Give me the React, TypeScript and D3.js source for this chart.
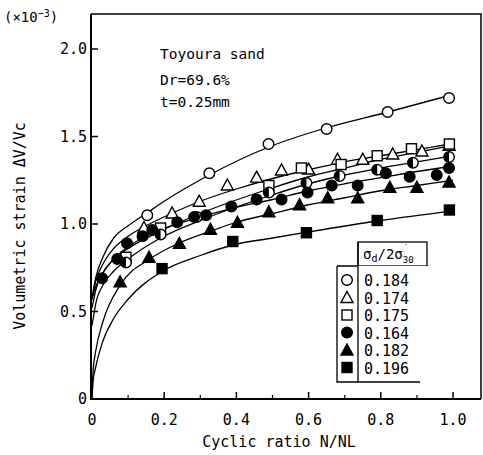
import React from "react";
import * as d3 from "d3";

type Pt = [number, number];

const legendLabels = ["0.184", "0.174", "0.175", "0.164", "0.182", "0.196"];
const xTicks = [0, 0.2, 0.4, 0.6, 0.8, 1.0];
const xTickLabels = ["0", "0.2", "0.4", "0.6", "0.8", "1.0"];
const xMinorTicks = [0.1, 0.3, 0.5, 0.7, 0.9];
const yTicks = [0.5, 1.0, 1.5, 2.0];
const yTickLabels = ["0.5", "1.0", "1.5", "2.0"];

// measured points (x = N/NL, y = volumetric strain x1e-3)
const openCircle: Pt[] = [[0.153, 1.05], [0.325, 1.29], [0.489, 1.457], [0.65, 1.543], [0.819, 1.64], [0.989, 1.72]];
const openTriangle: Pt[] = [[0.144, 0.98], [0.222, 1.063], [0.297, 1.13], [0.375, 1.223], [0.456, 1.268], [0.525, 1.309], [0.6, 1.314], [0.68, 1.37], [0.75, 1.37], [0.833, 1.4], [0.914, 1.417], [0.989, 1.45]];
const openSquare: Pt[] = [[0.094, 0.81], [0.19, 0.977], [0.49, 1.22], [0.58, 1.32], [0.69, 1.34], [0.79, 1.39], [0.885, 1.43], [0.99, 1.457]];
const halfCircle: Pt[] = [[0.094, 0.78], [0.19, 0.94], [0.29, 1.04], [0.49, 1.18], [0.594, 1.234], [0.686, 1.274], [0.79, 1.31], [0.889, 1.35], [0.989, 1.383]];
const filledCircle: Pt[] = [[0.028, 0.69], [0.07, 0.8], [0.097, 0.89], [0.14, 0.93], [0.167, 0.966], [0.236, 1.01], [0.283, 1.04], [0.316, 1.05], [0.386, 1.1], [0.456, 1.14], [0.525, 1.14], [0.597, 1.18], [0.664, 1.22], [0.736, 1.22], [0.814, 1.29], [0.88, 1.27], [0.955, 1.28], [0.989, 1.32]];
const filledTriangle: Pt[] = [[0.078, 0.67], [0.158, 0.81], [0.242, 0.89], [0.328, 0.97], [0.403, 1.01], [0.49, 1.07], [0.575, 1.11], [0.653, 1.15], [0.736, 1.15], [0.825, 1.21], [0.9, 1.21], [0.989, 1.24]];
const filledSquare: Pt[] = [[0.194, 0.745], [0.39, 0.9], [0.594, 0.95], [0.79, 1.02], [0.99, 1.08]];

// fitted curves
const curveOpenCircle: Pt[] = [[0, 0.57], [0.005, 0.64], [0.01, 0.69], [0.03, 0.81], [0.06, 0.92], [0.1, 0.99], [0.15, 1.06], [0.2, 1.13], [0.325, 1.28], [0.49, 1.44], [0.65, 1.55], [0.82, 1.64], [1.0, 1.74]];
const curveOpenTriangle: Pt[] = [[0, 0.57], [0.005, 0.62], [0.01, 0.67], [0.03, 0.77], [0.06, 0.86], [0.1, 0.93], [0.15, 0.99], [0.22, 1.06], [0.3, 1.13], [0.4, 1.2], [0.5, 1.26], [0.6, 1.31], [0.7, 1.355], [0.8, 1.39], [0.9, 1.425], [1.0, 1.46]];
const curveOpenSquare: Pt[] = [[0, 0.52], [0.005, 0.57], [0.01, 0.62], [0.03, 0.72], [0.06, 0.8], [0.1, 0.86], [0.19, 0.96], [0.3, 1.06], [0.49, 1.2], [0.6, 1.27], [0.7, 1.32], [0.8, 1.37], [0.9, 1.41], [1.0, 1.45]];
const curveHalfCircle: Pt[] = [[0, 0.42], [0.005, 0.48], [0.01, 0.54], [0.03, 0.65], [0.06, 0.73], [0.1, 0.8], [0.19, 0.92], [0.3, 1.02], [0.49, 1.16], [0.6, 1.23], [0.7, 1.28], [0.8, 1.32], [0.9, 1.355], [1.0, 1.39]];
const curveFilledCircle: Pt[] = [[0, 0.57], [0.005, 0.61], [0.01, 0.64], [0.03, 0.72], [0.07, 0.82], [0.1, 0.87], [0.17, 0.95], [0.3, 1.04], [0.4, 1.095], [0.5, 1.14], [0.6, 1.19], [0.7, 1.23], [0.8, 1.265], [0.9, 1.3], [1.0, 1.33]];
const curveFilledTriangle: Pt[] = [[0, 0], [0.003, 0.16], [0.01, 0.27], [0.03, 0.44], [0.078, 0.65], [0.16, 0.8], [0.24, 0.89], [0.33, 0.96], [0.4, 1.01], [0.5, 1.06], [0.6, 1.11], [0.7, 1.15], [0.8, 1.19], [0.9, 1.22], [1.0, 1.25]];
const curveFilledSquare: Pt[] = [[0, 0], [0.003, 0.1], [0.01, 0.18], [0.03, 0.33], [0.06, 0.46], [0.1, 0.57], [0.195, 0.73], [0.3, 0.82], [0.39, 0.88], [0.5, 0.92], [0.6, 0.955], [0.8, 1.02], [1.0, 1.075]];

const FONT = "'DejaVu Sans Mono', monospace";

const x = d3.scaleLinear().domain([0, 1]).range([92, 453]);
const y = d3.scaleLinear().domain([0, 2]).range([399, 49]);
const lineGen = d3.line<Pt>().x((d) => x(d[0])).y((d) => y(d[1])).curve(d3.curveMonotoneX);

type Kind = "oc" | "ot" | "os" | "hc" | "fc" | "ft" | "fs";

function Marker({ kind, cx, cy }: { kind: Kind; cx: number; cy: number }) {
  const r = 5.3;
  const sw = 1.4;
  switch (kind) {
    case "oc":
      return <circle cx={cx} cy={cy} r={r} fill="#fff" stroke="#000" strokeWidth={sw} />;
    case "fc":
      return <circle cx={cx} cy={cy} r={r} fill="#000" stroke="#000" strokeWidth={sw} />;
    case "hc":
      return (
        <g>
          <circle cx={cx} cy={cy} r={r} fill="#fff" stroke="#000" strokeWidth={sw} />
          <path d={`M${cx},${cy - r} A${r},${r} 0 0 0 ${cx},${cy + r} Z`} fill="#000" />
        </g>
      );
    case "os":
      return <rect x={cx - 5} y={cy - 5} width={10} height={10} fill="#fff" stroke="#000" strokeWidth={sw} />;
    case "fs":
      return <rect x={cx - 5} y={cy - 5} width={10} height={10} fill="#000" stroke="#000" strokeWidth={sw} />;
    case "ot":
      return <path d={`M${cx},${cy - 6} L${cx + 6},${cy + 5} L${cx - 6},${cy + 5} Z`} fill="#fff" stroke="#000" strokeWidth={sw} />;
    case "ft":
      return <path d={`M${cx},${cy - 6} L${cx + 6},${cy + 5} L${cx - 6},${cy + 5} Z`} fill="#000" stroke="#000" strokeWidth={sw} />;
  }
  return null;
}

const series: { kind: Kind; pts: Pt[]; curve: Pt[] }[] = [
  { kind: "oc", pts: openCircle, curve: curveOpenCircle },
  { kind: "ot", pts: openTriangle, curve: curveOpenTriangle },
  { kind: "os", pts: openSquare, curve: curveOpenSquare },
  { kind: "hc", pts: halfCircle, curve: curveHalfCircle },
  { kind: "fc", pts: filledCircle, curve: curveFilledCircle },
  { kind: "ft", pts: filledTriangle, curve: curveFilledTriangle },
  { kind: "fs", pts: filledSquare, curve: curveFilledSquare },
];

const legendKinds: Kind[] = ["oc", "ot", "os", "fc", "ft", "fs"];

export default function App() {
  const left = 91;
  const top = 14;
  const right = 481;
  const bottom = 399;
  return (
    <svg width={483} height={455} style={{ position: "absolute", left: 0, top: 0, background: "#fff" }} fontFamily={FONT}>
      <rect x={0} y={0} width={483} height={455} fill="#fff" />
      {/* frame */}
      <path d={`M${left},${top} L${right},${top} L${right},${bottom}`} fill="none" stroke="#000" strokeWidth={1.5} />
      <line x1={left} y1={top} x2={left} y2={bottom + 1} stroke="#000" strokeWidth={2} />
      <line x1={left} y1={bottom} x2={right} y2={bottom} stroke="#000" strokeWidth={2} />
      {/* y ticks */}
      {yTicks.map((t, i) => (
        <g key={"yt" + i}>
          <line x1={left} x2={left + 7} y1={y(t)} y2={y(t)} stroke="#000" strokeWidth={1.5} />
          <text x={left - 4} y={y(t) + 5} textAnchor="end" fontSize={15}>{yTickLabels[i]}</text>
        </g>
      ))}
      <text x={left - 4} y={bottom + 5} textAnchor="end" fontSize={15}>0</text>
      {/* x ticks */}
      {xTicks.map((t, i) => (
        <g key={"xt" + i}>
          {t > 0 && <line x1={x(t)} x2={x(t)} y1={bottom} y2={bottom - 7} stroke="#000" strokeWidth={1.5} />}
          <text x={x(t)} y={425} textAnchor="middle" fontSize={15}>{xTickLabels[i]}</text>
        </g>
      ))}
      {xMinorTicks.map((t, i) => (
        <line key={"xm" + i} x1={x(t)} x2={x(t)} y1={bottom} y2={bottom - 4} stroke="#000" strokeWidth={1.2} />
      ))}
      {/* axis titles */}
      <text x={279} y={447} textAnchor="middle" fontSize={15}>Cyclic ratio N/NL</text>
      <text transform="translate(25,226) rotate(-90)" textAnchor="middle" fontSize={15}>Volumetric strain ΔV/Vc</text>
      <text x={4} y={22} fontSize={14}>
        (×10<tspan dy={-5} fontSize={10}>−3</tspan><tspan dy={5}>)</tspan>
      </text>
      {/* annotation */}
      <text x={160} y={59} fontSize={14.5}>Toyoura sand</text>
      <text x={160} y={85} fontSize={14.5}>Dr=69.6%</text>
      <text x={160} y={107} fontSize={14.5}>t=0.25mm</text>
      {/* curves */}
      {series.map((s, i) => (
        <path key={"c" + i} d={lineGen(s.curve) || ""} fill="none" stroke="#000" strokeWidth={1.3} />
      ))}
      {/* markers */}
      {series.map((s, i) => (
        <g key={"m" + i}>
          {s.pts.map((p, j) => (
            <Marker key={j} kind={s.kind} cx={x(p[0])} cy={y(p[1])} />
          ))}
        </g>
      ))}
      {/* legend */}
      <g>
        <rect x={358} y={242} width={69} height={24} fill="#fff" stroke="#000" strokeWidth={1.3} />
        <rect x={337} y={266} width={90} height={116} fill="#fff" stroke="none" />
        <path d={`M337,266 L358,266 M337,266 L337,382 L420,382 M358,242 L358,382`} fill="none" stroke="#000" strokeWidth={1.3} />
        <text x={363} y={259} fontSize={14}>
          σ<tspan dy={3} fontSize={10}>d</tspan><tspan dy={-3}>/2σ</tspan><tspan dy={4} fontSize={9}>30</tspan><tspan dx={-10} dy={-12} fontSize={9}>′</tspan>
        </text>
        {legendLabels.map((lab, i) => {
          const cy = 280 + i * 17.5;
          return (
            <g key={"lg" + i}>
              <Marker kind={legendKinds[i]} cx={347} cy={cy} />
              <text x={364} y={cy + 6} fontSize={15}>{lab}</text>
            </g>
          );
        })}
      </g>
    </svg>
  );
}
